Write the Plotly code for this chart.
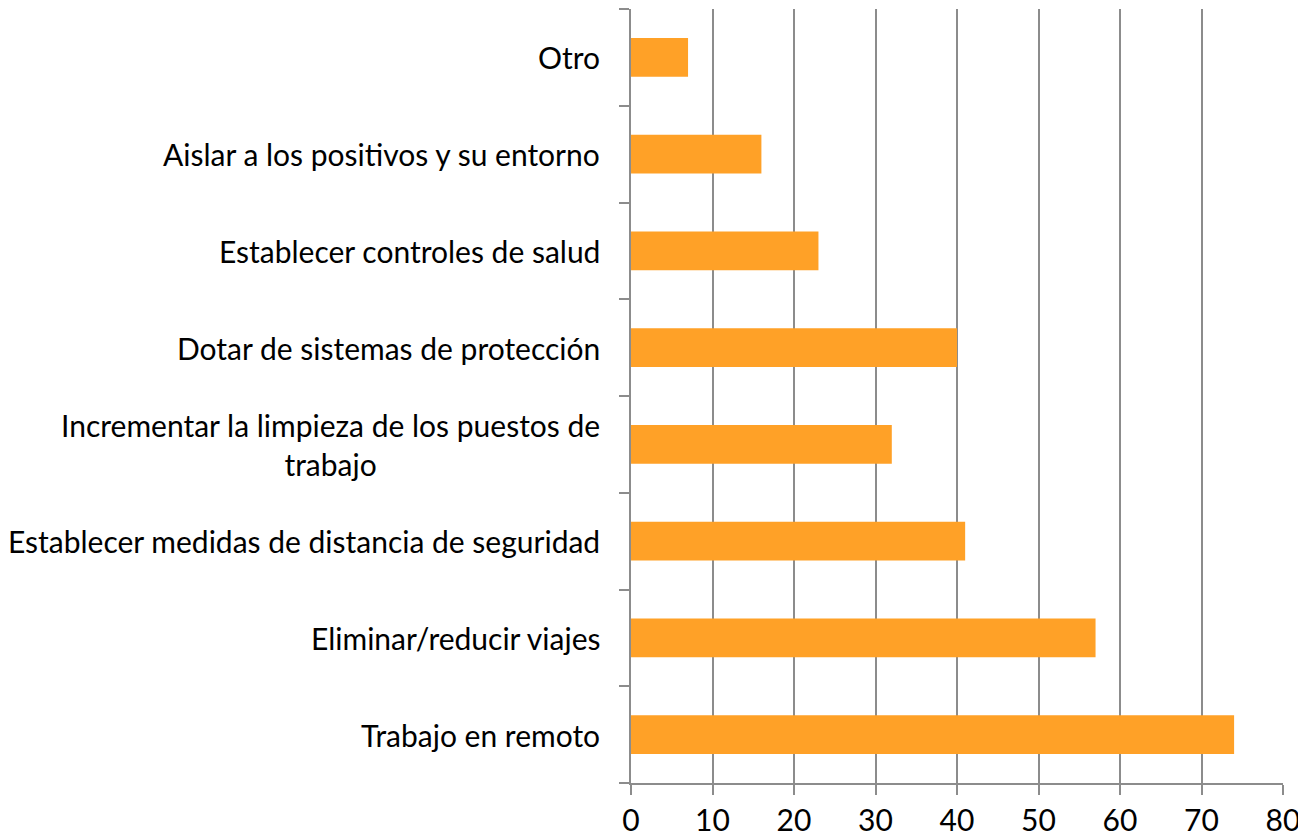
import plotly.graph_objects as go

categories = [
    "Trabajo en remoto",
    "Eliminar/reducir viajes",
    "Establecer medidas de distancia de seguridad",
    "Incrementar la limpieza de los puestos de<br>trabajo",
    "Dotar de sistemas de protección",
    "Establecer controles de salud",
    "Aislar a los positivos y su entorno",
    "Otro",
]
values = [74, 57, 41, 32, 40, 23, 16, 7]
x_ticks = [0, 10, 20, 30, 40, 50, 60, 70, 80]

positions = list(range(len(categories)))
FONT = "Lato"
GRID = "#8c8c8c"

fig = go.Figure(
    go.Bar(
        x=values,
        y=positions,
        orientation="h",
        marker=dict(color="#FFA127", line=dict(width=0)),
        width=0.4,
    )
)

for p, c in zip(positions, categories):
    fig.add_annotation(
        x=0, xref="paper", xanchor="right", xshift=-29,
        y=p, yref="y", yanchor="middle",
        text=c, showarrow=False, align="center",
        font=dict(family=FONT, size=30, color="#000000"),
    )

fig.update_xaxes(
    range=[0, 80],
    tickvals=x_ticks,
    ticktext=[str(t) for t in x_ticks],
    showgrid=True, gridcolor=GRID, gridwidth=1.5,
    showline=True, linecolor=GRID, linewidth=1.5,
    ticks="outside", ticklen=10, tickcolor=GRID, tickwidth=1.5,
    tickfont=dict(family=FONT, size=30, color="#000000"),
    zeroline=False,
)
fig.update_yaxes(
    range=[-0.5, 7.5],
    tickvals=[i - 0.5 for i in range(len(categories) + 1)],
    showticklabels=False,
    showgrid=False,
    showline=True, linecolor=GRID, linewidth=1.5,
    ticks="outside", ticklen=10, tickcolor=GRID, tickwidth=1.5,
    zeroline=False,
)
fig.update_layout(
    width=1298, height=830,
    margin=dict(l=623, r=23, t=1, b=55, autoexpand=False),
    plot_bgcolor="white", paper_bgcolor="white",
    showlegend=False,
    font=dict(family=FONT),
)
fig.write_html("out.html")
